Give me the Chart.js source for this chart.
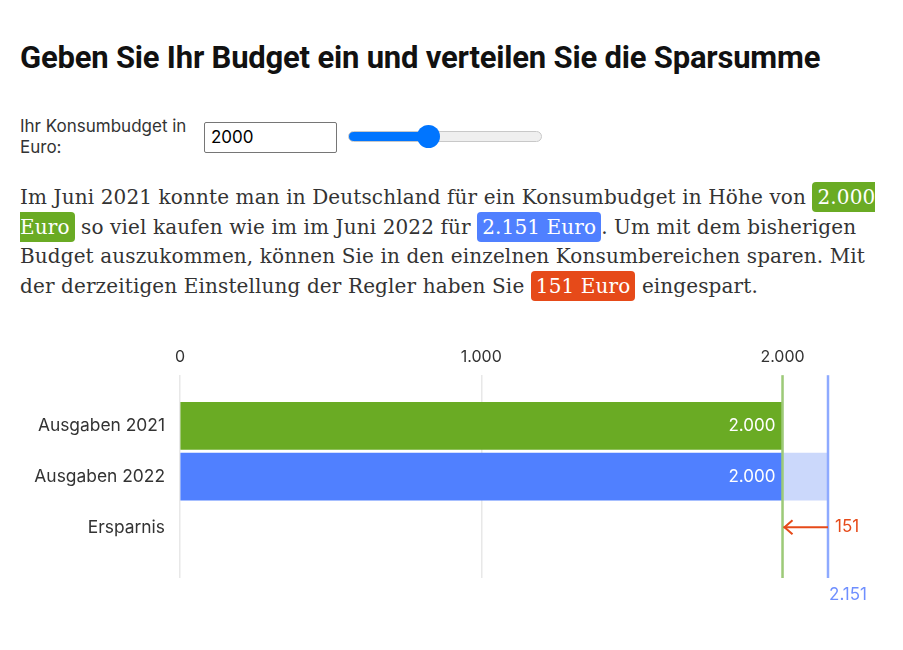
<!DOCTYPE html>
<html><head><meta charset="utf-8">
<script src="https://cdn.jsdelivr.net/npm/chart.js@4"></script>
<style>
body{margin:0;background:#fff;width:903px;height:650px;overflow:hidden;position:relative;font-family:Inter,"Noto Sans",sans-serif;color:#333;}
h1{position:absolute;left:20px;top:40px;margin:0;font-family:Roboto,sans-serif;font-weight:700;font-size:31px;line-height:36px;color:#111;white-space:nowrap;letter-spacing:-0.2px;}
.lab{position:absolute;left:20px;top:116px;width:185px;font-size:17px;line-height:21px;color:#333;}
.inp{position:absolute;left:204px;top:122px;width:133px;height:31px;box-sizing:border-box;border:1px solid #767676;border-radius:2px;font-size:17px;padding:3px 6px;font-family:Inter,sans-serif;color:#000;line-height:23px;}
input[type=range]{position:absolute;left:348px;top:125px;width:194px;height:22px;margin:0;-webkit-appearance:none;appearance:none;background:transparent;}
input[type=range]::-webkit-slider-runnable-track{height:11px;border-radius:6px;box-sizing:border-box;border:1px solid #c8c8c8;background:linear-gradient(to right,#0075ff 0,#0075ff 79px,#efefef 79px);}
input[type=range]::-webkit-slider-thumb{-webkit-appearance:none;width:23px;height:23px;border-radius:50%;background:#0075ff;margin-top:-7px;border:none;}
.para{position:absolute;left:20px;top:183px;font-family:"DejaVu Serif",serif;font-size:20px;letter-spacing:0.12px;line-height:29.5px;color:#333;white-space:nowrap;}
.b{color:#fff;border-radius:4px;padding:3px 5px;}
.g{background:#6aab24}.bl{background:#5080ff}.r{background:#e64a19}
#wrap{position:absolute;left:0;top:330px;width:903px;height:290px;}
</style></head><body>
<h1>Geben Sie Ihr Budget ein und verteilen Sie die Sparsumme</h1>
<div class="lab">Ihr Konsumbudget in Euro:</div>
<div class="inp">2000</div>
<input type="range" min="0" max="5000" value="2000">
<div class="para">Im Juni 2021 konnte man in Deutschland für ein Konsumbudget in Höhe von <span class="b g">2.000<br>Euro</span> so viel kaufen wie im im Juni 2022 für <span class="b bl">2.151 Euro</span>. Um mit dem bisherigen<br>Budget auszukommen, können Sie in den einzelnen Konsumbereichen sparen. Mit<br>der derzeitigen Einstellung der Regler haben Sie <span class="b r">151 Euro</span> eingespart.</div>
<div id="wrap"><canvas id="c" width="903" height="290"></canvas></div>
<script>
const categories = ['', 'Ausgaben 2021', 'Ausgaben 2022', 'Ersparnis', ''];
const spending = [null, 2000, 2000, null, null];
const extra = [null, 0, 151, null, null];
const budget2021 = 2000;
const budget2022 = 2151;
const savings = 151;
const tickValues = [0, 1000, 2000];

const GREEN = '#6aab24', BLUE = '#5080ff', LIGHTBLUE = '#cbd8fb', RED = '#e64a19';
const fmt = v => String(Math.round(v)).replace(/\B(?=(\d{3})+(?!\d))/g, '.');

const overlay = {
  id: 'overlay',
  afterDatasetsDraw(chart) {
    const ctx = chart.ctx, x = chart.scales.x, y = chart.scales.y, a = chart.chartArea;
    const meta = chart.getDatasetMeta(0);
    ctx.save();
    ctx.font = '17px Inter, sans-serif';
    ctx.fillStyle = '#fff';
    ctx.textAlign = 'right'; ctx.textBaseline = 'middle';
    meta.data.forEach((bar, i) => {
      if (spending[i] == null) return;
      ctx.fillText(fmt(spending[i]), bar.x - 7, bar.y);
    });
    const x0 = x.getPixelForValue(budget2021), x1 = x.getPixelForValue(budget2022);
    ctx.lineWidth = 2.5;
    ctx.strokeStyle = '#9dca78';
    ctx.beginPath(); ctx.moveTo(x0, a.top); ctx.lineTo(x0, a.bottom); ctx.stroke();
    ctx.strokeStyle = '#8eaaff';
    ctx.beginPath(); ctx.moveTo(x1, a.top); ctx.lineTo(x1, a.bottom); ctx.stroke();
    const yr = y.getPixelForValue(3);
    ctx.strokeStyle = RED; ctx.lineWidth = 2;
    ctx.beginPath(); ctx.moveTo(x1, yr); ctx.lineTo(x0 + 1, yr); ctx.stroke();
    ctx.beginPath(); ctx.moveTo(x0 + 10, yr - 7); ctx.lineTo(x0 + 2, yr); ctx.lineTo(x0 + 10, yr + 7); ctx.stroke();
    ctx.font = '17px Inter, sans-serif';
    ctx.fillStyle = RED; ctx.textAlign = 'left';
    ctx.fillText(fmt(savings), x1 + 7, yr);
    ctx.fillStyle = '#6f8fff'; ctx.textAlign = 'center'; ctx.textBaseline = 'top';
    ctx.fillText(fmt(budget2022), x1 + 20, a.bottom + 8);
    ctx.restore();
  }
};

new Chart(document.getElementById('c'), {
  type: 'bar',
  data: {
    labels: categories,
    datasets: [
      { data: spending, backgroundColor: [null, GREEN, BLUE, null, null], barThickness: 47, stack: 's' },
      { data: extra, backgroundColor: LIGHTBLUE, barThickness: 47, stack: 's' }
    ]
  },
  options: {
    indexAxis: 'y',
    responsive: false,
    animation: false,
    layout: { padding: { top: 10, right: 75, bottom: 42, left: 0 } },
    plugins: { legend: { display: false }, tooltip: { enabled: false } },
    scales: {
      x: {
        position: 'top', min: 0, max: budget2022, stacked: true,
        afterBuildTicks: s => { s.ticks = tickValues.map(v => ({ value: v })); },
        ticks: { callback: v => fmt(v), color: '#333', font: { size: 16, family: 'Inter' }, padding: 8, maxRotation: 0 },
        grid: { color: '#e8e8e8', drawTicks: false, lineWidth: 1.5 },
        border: { display: false }
      },
      y: {
        offset: false, stacked: true,
        afterFit: s => { s.width = 180; },
        ticks: { color: '#333', font: { size: 17.4, family: 'Inter' }, padding: 7, autoSkip: false },
        grid: { display: false },
        border: { display: false }
      }
    }
  },
  plugins: [overlay]
});
</script>
</body></html>
